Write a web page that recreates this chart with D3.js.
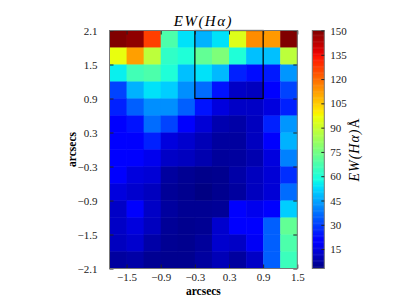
<!DOCTYPE html>
<html>
<head>
<meta charset="utf-8">
<script src="https://cdn.jsdelivr.net/npm/d3@7"></script>
<style>
  body { margin: 0; background: #fff; }
  svg { display: block; }
  text { font-family: "Liberation Serif", "DejaVu Serif", serif; }
</style>
</head>
<body>
<svg id="chart" width="399" height="299"></svg>
<script>
// EW(Halpha) map, rows from top (y = 2.1) to bottom (y = -2.1), columns from x = -1.8
var ewRows = [
  [150, 148, 127, 68, 54, 47, 54, 94, 115, 113, 150],
  [96, 112, 88, 63, 60, 72, 77, 60, 49, 49, 88],
  [56, 66, 68, 60, 49, 54, 48, 26, 23, 25, 43],
  [31, 47, 54, 51, 42, 37, 24, 12, 11, 20, 31],
  [26, 35, 42, 42, 35, 24, 15, 12, 12, 15, 26],
  [19, 24, 37, 31, 19, 14, 9, 8, 11, 26, 43],
  [20, 19, 26, 15, 13, 10, 7, 7, 11, 19, 47],
  [20, 19, 17, 12, 11, 9, 6.5, 7, 9, 15, 40],
  [19, 15, 14, 7, 5.5, 4.5, 5, 8, 11, 14, 28],
  [15, 13, 11, 6, 5, 3.5, 5, 7, 11, 14, 37],
  [12, 19, 12, 7, 5.5, 5.5, 6, 19, 17, 20, 51],
  [12, 15, 11, 6, 5, 5.5, 13, 20, 20, 35, 72],
  [11, 13, 8, 5.5, 5, 6.5, 13, 12, 18, 35, 68],
  [7, 8, 5.5, 5, 5, 7, 10, 7, 12, 35, 65]
];
var xTicks = [-1.5, -0.9, -0.3, 0.3, 0.9, 1.5];
var yTicks = [-2.1, -1.5, -0.9, -0.3, 0.3, 0.9, 1.5, 2.1];
var cbTicks = [15, 30, 45, 60, 75, 90, 105, 120, 135, 150];
var xDomain = [-1.8, 1.5];
var yDomain = [-2.1, 2.1];
var cellSize = 0.3;
var ewRange = [3, 150];
var box = { x0: -0.3, x1: 0.9, y0: 0.9, y1: 2.1 };

// matplotlib "jet"
var jetSeg = {
  r: [[0, 0], [0.35, 0], [0.66, 1], [0.89, 1], [1, 0.5]],
  g: [[0, 0], [0.125, 0], [0.375, 1], [0.64, 1], [0.91, 0], [1, 0]],
  b: [[0, 0.5], [0.11, 1], [0.34, 1], [0.65, 0], [1, 0]]
};
function seg(pts, t) {
  for (var i = 1; i < pts.length; i++) {
    if (t <= pts[i][0]) {
      var a = pts[i - 1], b = pts[i];
      return a[1] + (b[1] - a[1]) * (t - a[0]) / (b[0] - a[0]);
    }
  }
  return pts[pts.length - 1][1];
}
function jet(t) {
  t = Math.max(0, Math.min(1, t));
  return d3.rgb(seg(jetSeg.r, t) * 255, seg(jetSeg.g, t) * 255, seg(jetSeg.b, t) * 255) + "";
}

var svg = d3.select("#chart");
var pLeft = 109.5, pRight = 297.3, pTop = 30.5, pBottom = 268.5;
var x = d3.scaleLinear().domain(xDomain).range([pLeft, pRight]);
var y = d3.scaleLinear().domain(yDomain).range([pBottom, pTop]);
var color = d3.scaleSequential(jet).domain(ewRange);

// cells
var cells = [];
ewRows.forEach(function (row, r) {
  row.forEach(function (v, c) {
    cells.push({ x0: xDomain[0] + c * cellSize, y1: yDomain[1] - r * cellSize, v: v });
  });
});
svg.append("g").selectAll("rect").data(cells).enter().append("rect")
  .attr("x", function (d) { return x(d.x0); })
  .attr("y", function (d) { return y(d.y1); })
  .attr("width", function (d) { return x(d.x0 + cellSize) - x(d.x0) + 0.4; })
  .attr("height", function (d) { return y(d.y1 - cellSize) - y(d.y1) + 0.4; })
  .attr("fill", function (d) { return color(d.v); });

// aperture box
svg.append("rect")
  .attr("x", x(box.x0)).attr("y", y(box.y1))
  .attr("width", x(box.x1) - x(box.x0)).attr("height", y(box.y0) - y(box.y1))
  .attr("fill", "none").attr("stroke", "#000").attr("stroke-width", 1.2);

// axes, ticks inside on all sides
var fmt = d3.format(".1f");
function styleAxis(g, labels) {
  g.select(".domain").remove();
  g.selectAll(".tick line").attr("stroke", "#222");
  g.selectAll(".tick text").attr("fill", "#222").style("font-size", "11px")
    .style("font-family", "Liberation Serif, serif");
  if (!labels) g.selectAll(".tick text").remove();
}
svg.append("g").attr("transform", "translate(0," + pBottom + ")")
  .call(d3.axisBottom(x).tickValues(xTicks).tickFormat(fmt).tickSizeInner(-4).tickSizeOuter(0).tickPadding(5))
  .call(styleAxis, true);
svg.append("g").attr("transform", "translate(0," + pTop + ")")
  .call(d3.axisTop(x).tickValues(xTicks).tickSizeInner(-4).tickSizeOuter(0))
  .call(styleAxis, false);
svg.append("g").attr("transform", "translate(" + pLeft + ",0)")
  .call(d3.axisLeft(y).tickValues(yTicks).tickFormat(fmt).tickSizeInner(-4).tickSizeOuter(0).tickPadding(12))
  .call(styleAxis, true);
svg.append("g").attr("transform", "translate(" + pRight + ",0)")
  .call(d3.axisRight(y).tickValues(yTicks).tickSizeInner(-4).tickSizeOuter(0))
  .call(styleAxis, false);

svg.append("rect")
  .attr("x", pLeft).attr("y", pTop).attr("width", pRight - pLeft).attr("height", pBottom - pTop)
  .attr("fill", "none").attr("stroke", "#777").attr("stroke-width", 1);

// title and axis labels
svg.append("text").attr("x", (pLeft + pRight) / 2).attr("y", 25.5)
  .attr("text-anchor", "middle").style("font-size", "15px").style("font-style", "italic")
  .style("letter-spacing", "1.5px")
  .text("EW(Hα)");

svg.append("text").attr("x", (pLeft + pRight) / 2).attr("y", 295)
  .attr("text-anchor", "middle").style("font-size", "11.5px").style("font-weight", "bold")
  .text("arcsecs");
svg.append("text").attr("transform", "translate(76," + ((pTop + pBottom) / 2) + ") rotate(-90)")
  .attr("text-anchor", "middle").style("font-size", "11.5px").style("font-weight", "bold")
  .text("arcsecs");

// colorbar
var cbX = 312.3, cbW = 12;
var cbY = d3.scaleLinear().domain(ewRange).range([pBottom, pTop]);
var steps = d3.range(0, 200).map(function (i) { return ewRange[0] + (ewRange[1] - ewRange[0]) * i / 200; });
var dv = (ewRange[1] - ewRange[0]) / 200;
svg.append("g").selectAll("rect").data(steps).enter().append("rect")
  .attr("x", cbX).attr("width", cbW)
  .attr("y", function (d) { return cbY(d + dv); })
  .attr("height", function (d) { return cbY(d) - cbY(d + dv) + 0.5; })
  .attr("fill", function (d) { return color(d + dv / 2); });
svg.append("rect").attr("x", cbX).attr("y", pTop).attr("width", cbW).attr("height", pBottom - pTop)
  .attr("fill", "none").attr("stroke", "#777").attr("stroke-width", 1);
svg.append("g").attr("transform", "translate(" + (cbX + cbW) + ",0)")
  .call(d3.axisRight(cbY).tickValues(cbTicks).tickFormat(d3.format("d")).tickSizeInner(-3).tickSizeOuter(0).tickPadding(6))
  .call(styleAxis, true);

var cbLabel = svg.append("text").attr("transform", "translate(359," + ((pTop + pBottom) / 2) + ") rotate(-90)")
  .attr("text-anchor", "middle").style("font-size", "14px").style("letter-spacing", "1px");
cbLabel.append("tspan").style("font-style", "italic").text("EW(Hα)");
cbLabel.append("tspan").text("Å");
</script>
</body>
</html>
